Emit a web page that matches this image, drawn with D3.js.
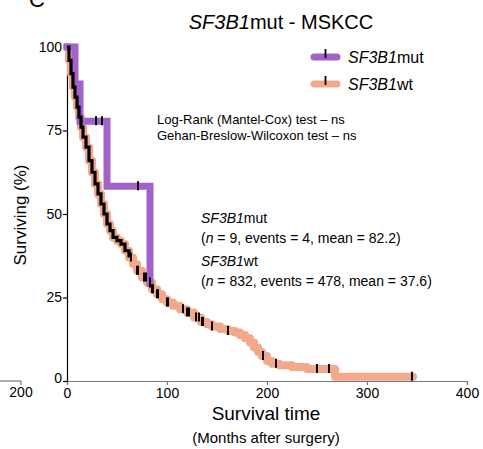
<!DOCTYPE html>
<html>
<head>
<meta charset="utf-8">
<script src="https://cdn.jsdelivr.net/npm/d3@7"></script>
<style>
body { margin: 0; background: #fff; }
text { font-family: Arial, "Liberation Sans", Helvetica, sans-serif; fill: #000; }
</style>
</head>
<body>
<div id="chart"></div>
<script>
var WIDTH = 483;
var HEIGHT = 449;

// SF3B1wt Kaplan-Meier steps (months, % surviving)
var wtTimes = [0, 2, 4, 6, 8, 10, 12, 14, 16, 19, 22, 25, 28, 31, 34, 37, 40, 43, 46, 50, 54, 58, 62, 66, 70, 75, 80, 85, 90, 95, 100, 106, 113, 120, 127, 134, 140, 145, 153, 161, 168, 173, 178, 183, 187, 191, 195, 200, 205, 212, 225, 240, 268, 346];
var wtSurv = [100, 96, 92, 88, 85, 82, 79, 76, 73, 70, 66, 62.5, 59, 56, 53, 50, 47, 45, 43, 42, 41, 39, 37, 35, 33, 31, 29.5, 27.5, 26, 24.5, 23.5, 22.5, 21.5, 20.5, 19, 17.7, 17, 16.3, 15.6, 15, 14.5, 13.8, 12.8, 11.5, 10, 8.7, 7.5, 6, 5.2, 4.7, 4.2, 3.6, 1.3, 1.3];
var wtCensored = [64, 70, 71, 77, 79, 83, 85, 86, 90, 91, 100, 101, 116, 120, 122, 129, 132, 135, 136, 145, 161, 196, 209, 250, 262, 345];
var wtDenseEnd = 62; // censor marks merge into a solid line before this

// SF3B1mut Kaplan-Meier steps
var mutTimes = [0, 8, 13, 40, 83, 83];
var mutSurv = [100, 88.9, 77.8, 58.3, 29.2, 29.2];
var mutCensored = [14, 29, 35, 71, 83];

var xTicks = [0, 100, 200, 300, 400];
var yTicks = [0, 25, 50, 75, 100];

var MUT_COLOR = "#a163c9";
var WT_COLOR = "#f2a98b";

var svg = d3.select("#chart").append("svg")
	.attr("width", WIDTH)
	.attr("height", HEIGHT);

var x = d3.scaleLinear().domain([0, 400]).range([67, 467]);
var y = d3.scaleLinear().domain([0, 100]).range([381, 47]);

// survival value at time t (step function)
function survAt(times, surv, t) {
	var s = surv[0];
	for (var i = 0; i < times.length; i++) {
		if (times[i] <= t) s = surv[i];
	}
	return s;
}

var line = d3.line()
	.x(d => x(d[0]))
	.y(d => y(d[1]))
	.curve(d3.curveStepAfter);

var wtData = wtTimes.map((t, i) => [t, wtSurv[i]]);
var mutData = mutTimes.map((t, i) => [t, mutSurv[i]]);

// panel letter (cut off at the top)
svg.append("text")
	.attr("x", 29)
	.attr("y", 7)
	.style("font-size", "22px")
	.text("C");

// fragment of the neighbouring panel's x axis
svg.append("line")
	.attr("x1", 0).attr("x2", 21)
	.attr("y1", 381).attr("y2", 381)
	.attr("stroke", "#777").attr("stroke-width", 1.2);
svg.append("line")
	.attr("x1", 21).attr("x2", 21)
	.attr("y1", 381).attr("y2", 385)
	.attr("stroke", "#777").attr("stroke-width", 1.2);
svg.append("text")
	.attr("x", 21).attr("y", 397)
	.attr("text-anchor", "middle")
	.style("font-size", "14px")
	.text("200");

// title
var title = svg.append("text")
	.attr("x", 281)
	.attr("y", 29)
	.attr("text-anchor", "middle")
	.style("font-size", "20px");
title.append("tspan").style("font-style", "italic").text("SF3B1");
title.append("tspan").text("mut - MSKCC");

// axes
var xAxis = svg.append("g")
	.attr("transform", "translate(0,381)")
	.call(d3.axisBottom(x).tickValues(xTicks).tickSize(4).tickPadding(3));
xAxis.select(".domain").attr("stroke", "#777").attr("stroke-width", 1.2);
xAxis.selectAll(".tick line").attr("stroke", "#777").attr("stroke-width", 1.2);
xAxis.selectAll("text").style("font-size", "14px").style("font-family", "Arial, 'Liberation Sans', sans-serif");

var yAxis = svg.append("g")
	.attr("transform", "translate(67,0)")
	.call(d3.axisLeft(y).tickValues(yTicks).tickSize(4).tickPadding(1));
yAxis.select(".domain").attr("stroke", "#000").attr("stroke-width", 1.2);
yAxis.selectAll(".tick line").attr("stroke", "#000").attr("stroke-width", 1.2);
yAxis.selectAll("text").style("font-size", "14px").style("font-family", "Arial, 'Liberation Sans', sans-serif");
yAxis.selectAll(".tick").filter(d => d === 0).select("text").attr("dy", "0.1em");

// axis labels
svg.append("text")
	.attr("transform", "rotate(-90)")
	.attr("x", -215)
	.attr("y", 26)
	.attr("text-anchor", "middle")
	.style("font-size", "17px")
	.text("Surviving (%)");

svg.append("text")
	.attr("x", 266)
	.attr("y", 420)
	.attr("text-anchor", "middle")
	.style("font-size", "19px")
	.text("Survival time");

svg.append("text")
	.attr("x", 266)
	.attr("y", 443)
	.attr("text-anchor", "middle")
	.style("font-size", "15px")
	.text("(Months after surgery)");

// curves
svg.append("path")
	.datum(wtData)
	.attr("d", line)
	.attr("fill", "none")
	.attr("stroke", WT_COLOR)
	.attr("stroke-width", 8)
	.attr("stroke-linecap", "round")
	.attr("stroke-linejoin", "round");

svg.append("path")
	.datum(mutData)
	.attr("d", line)
	.attr("fill", "none")
	.attr("stroke", MUT_COLOR)
	.attr("stroke-width", 7)
	.attr("stroke-linecap", "square");

// dense censor marks on the early part of the wt curve
svg.append("path")
	.datum(wtData.filter(d => d[0] <= wtDenseEnd))
	.attr("d", line)
	.attr("fill", "none")
	.attr("stroke", "#000")
	.attr("stroke-width", 3.2);

function drawTicks(times, surv, censored) {
	svg.append("g").selectAll("line")
		.data(censored)
		.join("line")
		.attr("x1", d => x(d)).attr("x2", d => x(d))
		.attr("y1", d => y(survAt(times, surv, d)) - 5)
		.attr("y2", d => y(survAt(times, surv, d)) + 4)
		.attr("stroke", "#000")
		.attr("stroke-width", 2);
}
drawTicks(wtTimes, wtSurv, wtCensored);
drawTicks(mutTimes, mutSurv, mutCensored);

// legend
var legendItems = [
	{ label: "mut", color: MUT_COLOR, y: 57 },
	{ label: "wt", color: WT_COLOR, y: 84 }
];
legendItems.forEach(function(item) {
	svg.append("line")
		.attr("x1", 314).attr("x2", 337)
		.attr("y1", item.y).attr("y2", item.y)
		.attr("stroke", item.color)
		.attr("stroke-width", 7)
		.attr("stroke-linecap", "round");
	svg.append("line")
		.attr("x1", 325.5).attr("x2", 325.5)
		.attr("y1", item.y - 8).attr("y2", item.y + 1)
		.attr("stroke", "#000")
		.attr("stroke-width", 1.8);
	var t = svg.append("text")
		.attr("x", 348)
		.attr("y", item.y + 6)
		.style("font-size", "16px");
	t.append("tspan").style("font-style", "italic").text("SF3B1");
	t.append("tspan").text(item.label);
});

// test results
svg.append("text")
	.attr("x", 157).attr("y", 124)
	.style("font-size", "13px")
	.text("Log-Rank (Mantel-Cox) test \u2013 ns");
svg.append("text")
	.attr("x", 157).attr("y", 140)
	.style("font-size", "13px")
	.text("Gehan-Breslow-Wilcoxon test \u2013 ns");

// group summaries
var summaries = [
	{ label: "mut", n: "9", events: "4", mean: "82.2", y: 223 },
	{ label: "wt", n: "832", events: "478", mean: "37.6", y: 266 }
];
summaries.forEach(function(s) {
	var a = svg.append("text")
		.attr("x", 201).attr("y", s.y)
		.style("font-size", "14px");
	a.append("tspan").style("font-style", "italic").text("SF3B1");
	a.append("tspan").text(s.label);
	var b = svg.append("text")
		.attr("x", 201).attr("y", s.y + 20)
		.style("font-size", "14px");
	b.append("tspan").text("(");
	b.append("tspan").style("font-style", "italic").text("n");
	b.append("tspan").text(" = " + s.n + ", events = " + s.events + ", mean = " + s.mean + ")");
});
</script>
</body>
</html>
